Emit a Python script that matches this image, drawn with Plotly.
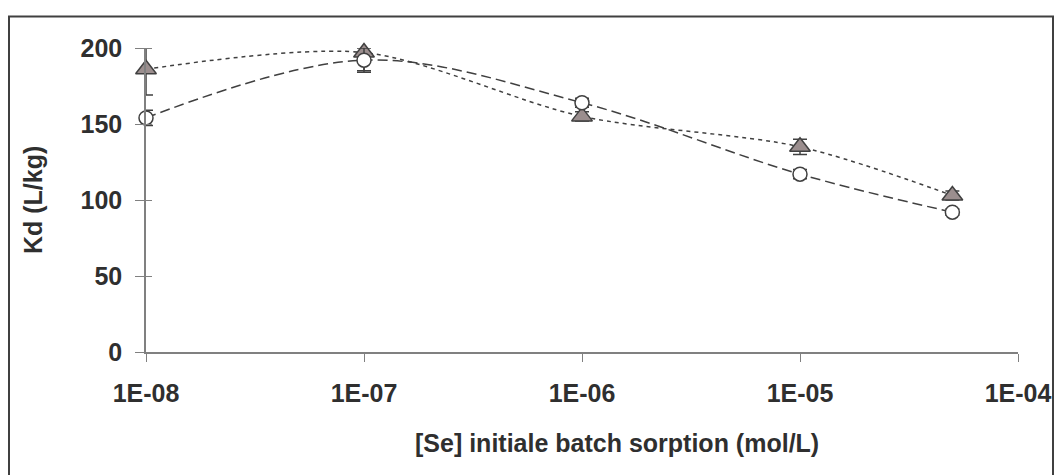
import plotly.graph_objects as go

# Data
conc = [1e-8, 1e-7, 1e-6, 1e-5, 5e-5]
kd_circle = [154, 192, 164, 117, 92]
kd_circle_err = [5, 8, 3, 3, 2]
kd_triangle = [186, 197, 155, 135, 103]
kd_triangle_err = [17, 12, 3, 5, 3]
x_tickvals = [1e-8, 1e-7, 1e-6, 1e-5, 1e-4]
x_ticktext = ["1E-08", "1E-07", "1E-06", "1E-05", "1E-04"]
y_tickvals = [0, 50, 100, 150, 200]

dark = "#404040"
text_col = "#2f2f2f"
font_family = "Liberation Sans, Arial, sans-serif"
fsize = 25

fig = go.Figure()

fig.add_trace(go.Scatter(
    x=conc, y=kd_triangle, mode="lines+markers",
    line=dict(color=dark, width=1.5, dash="4px,4px", shape="spline", smoothing=0.85),
    marker=dict(symbol="triangle-up", size=18, color="#9B8E8E",
                line=dict(color=dark, width=1.5)),
    error_y=dict(type="data", array=kd_triangle_err, visible=True,
                 color=dark, thickness=1.5, width=7),
    cliponaxis=False, showlegend=False,
))

fig.add_trace(go.Scatter(
    x=conc, y=kd_circle, mode="lines+markers",
    line=dict(color=dark, width=1.5, dash="10px,5px", shape="spline", smoothing=1),
    marker=dict(symbol="circle", size=14, color="white",
                line=dict(color=dark, width=1.5)),
    error_y=dict(type="data", array=kd_circle_err, visible=True,
                 color=dark, thickness=1.5, width=7),
    cliponaxis=False, showlegend=False,
))

fig.update_layout(
    width=1055, height=475,
    margin=dict(l=146, r=37, t=48, b=123, autoexpand=False),
    paper_bgcolor="white", plot_bgcolor="white",
    font=dict(family=font_family, size=fsize, color=text_col),
    xaxis=dict(
        type="log", range=[-8, -4], automargin=False,
        tickmode="array", tickvals=x_tickvals, ticktext=x_ticktext,
        tickfont=dict(family=font_family, size=fsize, color=text_col, weight="bold"),
        showline=True, linecolor="#808080", linewidth=1.5,
        ticks="outside", ticklen=8, tickcolor="#808080", tickwidth=1,
        showgrid=False, zeroline=False, ticklabelstandoff=10,
    ),
    yaxis=dict(
        range=[0, 200], tickmode="array", tickvals=y_tickvals, automargin=False,
        tickfont=dict(family=font_family, size=fsize, color=text_col, weight="bold"),
        showline=True, linecolor="#808080", linewidth=1.5,
        ticks="outside", ticklen=9, tickcolor="#808080", tickwidth=1,
        minor=dict(ticks="inside", ticklen=6, tickcolor="#808080", tickwidth=1,
                   tickmode="array", tickvals=y_tickvals),
        showgrid=False, zeroline=False, ticklabelstandoff=8,
    ),
    annotations=[
        dict(text="[Se] initiale batch sorption (mol/L)", xref="paper", yref="paper",
             x=(617 - 146) / 872, y=(352 - 443) / 304, xanchor="center", yanchor="middle",
             showarrow=False, font=dict(family=font_family, size=fsize, color=text_col, weight="bold")),
        dict(text="Kd (L/kg)", xref="paper", yref="paper", textangle=-90,
             x=(33 - 146) / 872, y=(352 - 200) / 304, xanchor="center", yanchor="middle",
             showarrow=False, font=dict(family=font_family, size=fsize, color=text_col, weight="bold")),
    ],
    shapes=[
        dict(type="rect", xref="paper", yref="paper",
             x0=(9 - 146) / 872, x1=(1053 - 146) / 872,
             y0=(352 - 490) / 304, y1=(352 - 16.5) / 304,
             line=dict(color=dark, width=2), fillcolor="rgba(0,0,0,0)", layer="below"),
    ],
)

fig.write_html("out.html", config={"displayModeBar": False},
               post_script="document.body.style.margin='0px';")
